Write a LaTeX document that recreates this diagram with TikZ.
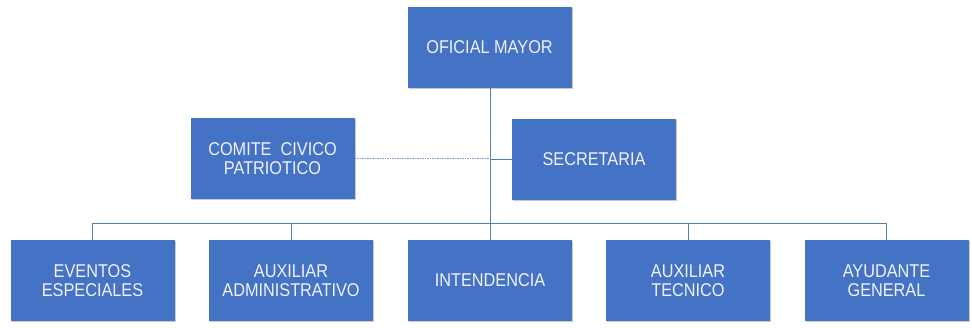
\documentclass[tikz,border=0pt]{standalone}
\usepackage{fontspec}
\setmainfont{Liberation Sans}[FakeStretch=0.88]
\usetikzlibrary{shadows}
\definecolor{boxblue}{RGB}{68,114,196}
\definecolor{linecol}{RGB}{82,126,172}
\definecolor{dashcol}{RGB}{120,160,200}
\tikzset{
  orgbox/.style={rectangle, fill=boxblue, draw=none, text=white!95!blue,
    minimum width=164pt, minimum height=81pt, inner sep=2pt, align=center,
    font=\fontsize{18.5}{19}\selectfont,
    drop shadow={opacity=0.35, shadow xshift=1.2pt, shadow yshift=-1.5pt, fill=black!60}},
  conn/.style={draw=linecol, line width=0.8pt},
  dashconn/.style={draw=dashcol, line width=0.6pt, dash pattern=on 1.5pt off 1pt}
}
\begin{document}
\begin{tikzpicture}[x=1pt,y=-1pt]
\useasboundingbox (0,0) rectangle (972,328);
\node[orgbox] (om) at (489.5,47.5) {OFICIAL MAYOR};
\node[orgbox] (cc) at (272.5,158.5) {COMITE\ \ CIVICO\\PATRIOTICO};
\node[orgbox] (sec) at (594,159.5) {SECRETARIA};
\node[orgbox] (ev) at (92.5,280.5) {EVENTOS\\ESPECIALES};
\node[orgbox] (aa) at (291,280.5) {AUXILIAR\\ADMINISTRATIVO};
\node[orgbox] (int) at (490,280.5) {INTENDENCIA};
\node[orgbox] (at) at (688,280.5) {AUXILIAR\\TECNICO};
\node[orgbox] (ag) at (886.5,280.5) {AYUDANTE\\GENERAL};
\coordinate (trunk) at (490,223);
\coordinate (mid) at (490,159.5);
\draw[conn] (om.south -| trunk) -- (int.north -| trunk);
\draw[conn] (mid) -- (sec.west |- mid);
\draw[dashconn] (cc.east) -- (cc.east -| mid);
\draw[conn] (ev.north) -- (ev.north |- trunk) -- (ag.north |- trunk) -- (ag.north);
\draw[conn] (aa.north) -- (aa.north |- trunk);
\draw[conn] (at.north) -- (at.north |- trunk);
\end{tikzpicture}
\end{document}
